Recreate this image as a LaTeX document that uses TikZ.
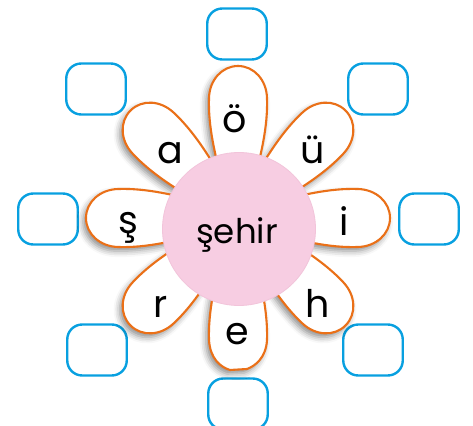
\documentclass[tikz,border=0pt]{standalone}
\usepackage{fontspec}
\setmainfont{Poppins}
\usetikzlibrary{shadows.blur}
\definecolor{petalorange}{RGB}{234,112,24}
\definecolor{boxblue}{RGB}{8,160,224}
\definecolor{centerpink}{RGB}{247,205,226}
\definecolor{centeredge}{RGB}{242,196,218}
\newcommand\petalpath{(30,-14) .. controls (62,-23) and (92,-30) .. (120,-29) .. controls (138,-28.5) and (152,-16) .. (152,0) .. controls (152,16) and (138,28.5) .. (120,29) .. controls (92,30) and (62,23) .. (30,14) -- cycle}
\newcommand\petalpathflat{(30,-14) .. controls (62,-23) and (95,-30) .. (122,-29) .. controls (140,-28) and (148,-17) .. (151,-9) -- (152,8) .. controls (149,18) and (140,28) .. (122,29) .. controls (95,30) and (62,23) .. (30,14) -- cycle}
\tikzset{
  petal/.style={fill=white, draw=petalorange, line width=2.1pt},
  petalshade/.style={blur shadow={shadow xshift=0pt, shadow yshift=0pt, shadow blur radius=6pt, shadow opacity=45}},
  answerbox/.style={draw=boxblue, line width=2.4pt, rounded corners=15pt, minimum width=59.5pt, minimum height=51pt, inner sep=0pt},
  letter/.style={font=\fontsize{38}{42}\selectfont, anchor=base, inner sep=0pt},
  word/.style={font=\fontsize{34}{38}\selectfont, anchor=base, inner sep=0pt},
}
\begin{document}
\begin{tikzpicture}[x=1pt,y=-1pt]
\useasboundingbox (0,0) rectangle (473,425);
% answer boxes
\node[answerbox] (b1) at (237,34) {};
\node[answerbox] (b2) at (378,89) {};
\node[answerbox] (b3) at (429,219) {};
\node[answerbox] (b4) at (373,350) {};
\node[answerbox] (b5) at (238,404) {};
\node[answerbox] (b6) at (97,350) {};
\node[answerbox] (b7) at (48,219) {};
\node[answerbox] (b8) at (96,89) {};
% petal shadows
\foreach \a in {0,45,...,225,315}{
  \begin{scope}[shift={(235,222)}, rotate=\a]
    \path[petalshade] \petalpath;
  \end{scope}
}
\begin{scope}[shift={(235,222)}, rotate=270]
  \path[petalshade] \petalpathflat;
\end{scope}
% petals
\foreach \a in {0,45,...,225,315}{
  \begin{scope}[shift={(238,218)}, rotate=\a]
    \draw[petal] \petalpath;
  \end{scope}
}
\begin{scope}[shift={(238,218)}, rotate=270]
  \draw[petal] \petalpathflat;
\end{scope}
% centre
\node[circle, fill=centerpink, draw=centeredge, line width=0.8pt, minimum size=153pt, inner sep=0pt] (c) at (239,229) {};
\node[word] (w) at (237,243) {şehir};
% letters
\node[letter] (l1) at (235,132) {ö};
\node[letter] (l2) at (313,163) {ü};
\node[letter] (l3) at (344,235) {i};
\node[letter] (l4) at (318,317) {h};
\node[letter] (l5) at (237,344) {e};
\node[letter] (l6) at (161,317) {r};
\node[letter] (l7) at (128,233) {ş};
\node[letter] (l8) at (170,163) {a};
\end{tikzpicture}
\end{document}
